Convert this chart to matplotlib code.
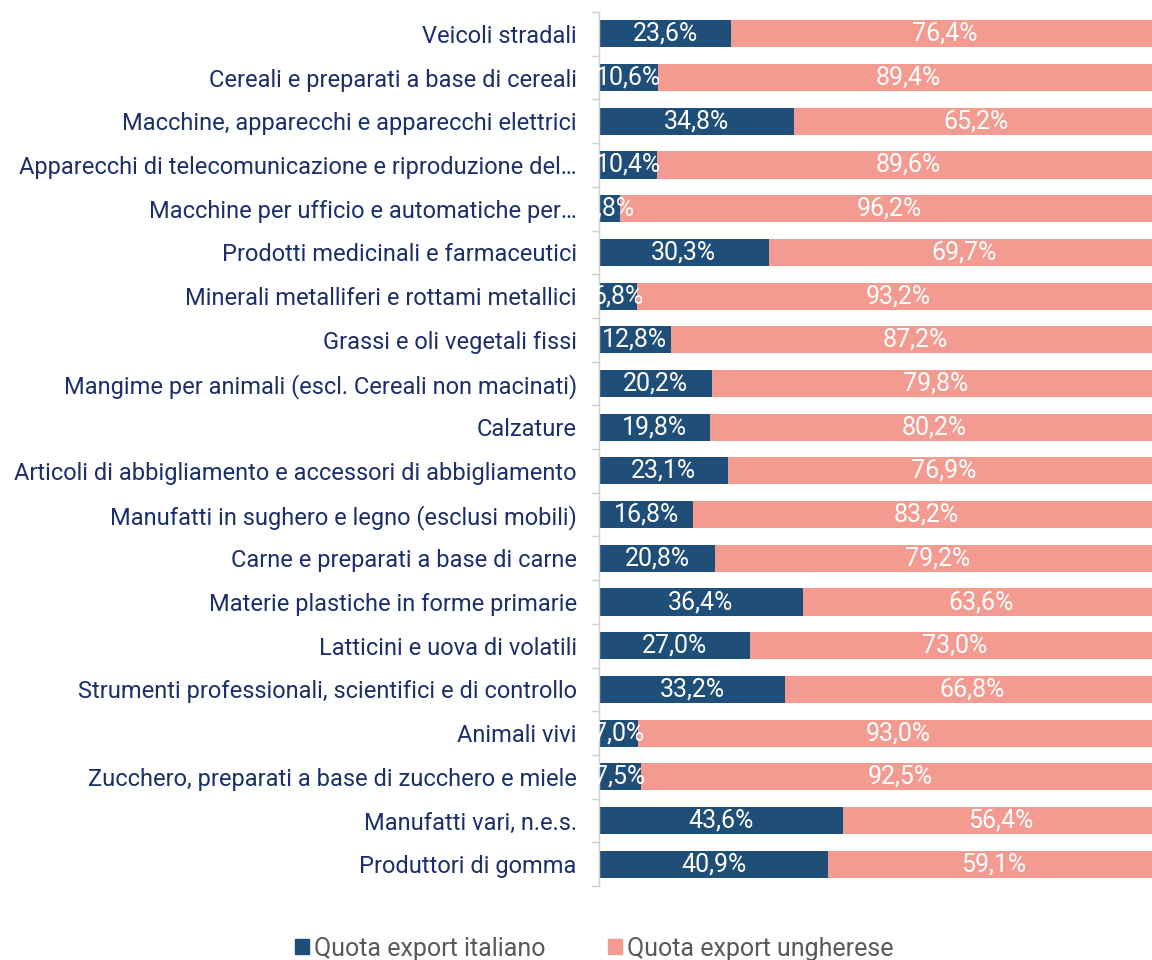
import matplotlib
matplotlib.use("Agg")
import matplotlib.pyplot as plt
from matplotlib.patches import Patch
import numpy as np

plt.rcParams['font.family'] = ['Roboto', 'DejaVu Sans']

categories = [
    "Veicoli stradali",
    "Cereali e preparati a base di cereali",
    "Macchine, apparecchi e apparecchi elettrici",
    "Apparecchi di telecomunicazione e riproduzione del…",
    "Macchine per ufficio e automatiche per…",
    "Prodotti medicinali e farmaceutici",
    "Minerali metalliferi e rottami metallici",
    "Grassi e oli vegetali fissi",
    "Mangime per animali (escl. Cereali non macinati)",
    "Calzature",
    "Articoli di abbigliamento e accessori di abbigliamento",
    "Manufatti in sughero e legno (esclusi mobili)",
    "Carne e preparati a base di carne",
    "Materie plastiche in forme primarie",
    "Latticini e uova di volatili",
    "Strumenti professionali, scientifici e di controllo",
    "Animali vivi",
    "Zucchero, preparati a base di zucchero e miele",
    "Manufatti vari, n.e.s.",
    "Produttori di gomma",
]
quota_italiano = [23.6, 10.6, 34.8, 10.4, 3.8, 30.3, 6.8, 12.8, 20.2, 19.8,
                  23.1, 16.8, 20.8, 36.4, 27.0, 33.2, 7.0, 7.5, 43.6, 40.9]
quota_ungherese = [76.4, 89.4, 65.2, 89.6, 96.2, 69.7, 93.2, 87.2, 79.8, 80.2,
                   76.9, 83.2, 79.2, 63.6, 73.0, 66.8, 93.0, 92.5, 56.4, 59.1]
series_names = ["Quota export italiano", "Quota export ungherese"]

c_it = "#1F4E79"
c_hu = "#F49B91"
label_color = "#1B2F6B"

fig = plt.figure(figsize=(11.52, 9.6), dpi=100)
ax = fig.add_axes([0.52, 0.077, 0.486, 0.9105])

y = np.arange(len(categories))
it = np.array(quota_italiano)
hu = np.array(quota_ungherese)
h = 0.62
ax.barh(y, it, height=h, color=c_it)
ax.barh(y, hu, left=it, height=h, color=c_hu)

def fmt(v):
    return f"{v:.1f}%".replace(".", ",")

for yi, a, b in zip(y, it, hu):
    ax.text(a / 2, yi, fmt(a), ha="center", va="center", color="white", fontsize=18)
    ax.text(a + b / 2, yi, fmt(b), ha="center", va="center", color="white", fontsize=18)

ax.set_xlim(0, 100)
ax.set_ylim(len(categories) - 0.5, -0.5)
ax.set_yticks(y)
ax.set_yticklabels(categories, fontsize=17, color=label_color)
ax.tick_params(axis="y", which="major", length=0, pad=16)
ax.set_yticks(np.arange(-0.5, len(categories) + 0.5, 1), minor=True)
ax.tick_params(axis="y", which="minor", length=6, color="#D0D0D0", width=1)
ax.set_xticks([])
for s in ["top", "right", "bottom"]:
    ax.spines[s].set_visible(False)
ax.spines["left"].set_color("#D0D0D0")
ax.spines["left"].set_linewidth(1)

handles = [Patch(color=c_it, label=series_names[0]), Patch(color=c_hu, label=series_names[1])]
leg = fig.legend(handles=handles, loc="lower center", bbox_to_anchor=(0.516, -0.024), ncol=2,
                 frameon=False, fontsize=18, handlelength=0.55, handleheight=0.55,
                 handletextpad=0.2, columnspacing=2.5)
for t in leg.get_texts():
    t.set_color("#595959")

fig.savefig("out.png", dpi=100)
